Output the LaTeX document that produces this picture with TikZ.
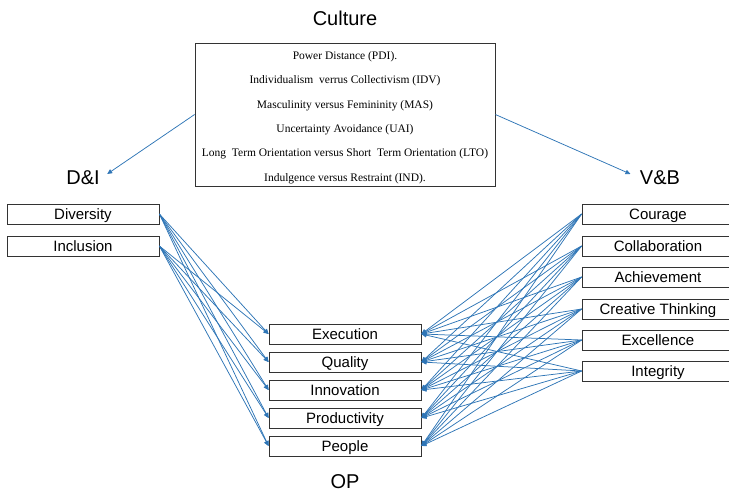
\documentclass[tikz,border=0pt]{standalone}
\usepackage{fontspec}
\setmainfont{Liberation Sans}
\newfontfamily\timesfont{Liberation Serif}
\usetikzlibrary{arrows.meta}
\definecolor{linkblu}{RGB}{46,117,182}

\begin{document}
\begin{tikzpicture}[x=1pt, y=-1pt,
        casella/.style={draw=black!80, line width=0.8pt, minimum width=152pt, minimum height=20pt, inner sep=0pt,
                        text height=11pt, text depth=0.3pt, font=\fontsize{15}{17}\selectfont},
        titolo/.style={font=\fontsize{20}{24}\selectfont},
        freccia/.style={-{Triangle[width=4.5pt,length=5pt]}, linkblu, line width=0.75pt}]
        \useasboundingbox (0,0) rectangle (729,493);

        % Riquadro della cultura
        \node[titolo] (culturaT) at (345,18) {Culture};
        \node[draw=black!80, line width=0.8pt, minimum width=300pt, minimum height=143pt, inner sep=0pt] (cult) at (345,114.5) {};
        \node[align=center, inner sep=0pt, font=\timesfont\fontsize{11.5}{24.4}\selectfont] (cultTesto) at ([yshift=-3pt]cult.center) {%
            Power Distance (PDI).\\
            Individualism\ \ verrus Collectivism (IDV)\\
            Masculinity versus Femininity\ (MAS)\\
            Uncertainty Avoidance (UAI)\\
            Long\ \ Term Orientation versus Short\ \ Term Orientation (LTO)\\
            Indulgence\ versus Restraint (IND).};

        % Titoli dei gruppi
        \node[titolo] (di) at (83,178) {D\&I};
        \node[titolo] (vb) at (660,178) {V\&B};
        \node[titolo] (op) at (345,482) {OP};

        \coordinate (diPunta) at ([xshift=4pt,yshift=4pt]di.east);
        \coordinate (vbPunta) at ([xshift=-6pt,yshift=4pt]vb.west);
        \draw[freccia] (cult.west) -- (diPunta);
        \draw[freccia] (cult.east) -- (vbPunta);

        % Caselle a sinistra
        \node[casella] (div) at (83,214) {Diversity};
        \node[casella] (inc) at (83,246) {Inclusion};

        % Caselle centrali
        \node[casella] (ese) at (345,334) {Execution};
        \node[casella] (qua) at (345,362) {Quality};
        \node[casella] (inn) at (345,390) {Innovation};
        \node[casella] (pro) at (345,418) {Productivity};
        \node[casella] (peo) at (345,446) {People};

        % Caselle a destra
        \node[casella] (cor) at (658,214) {Courage};
        \node[casella] (col) at (658,246) {Collaboration};
        \node[casella] (ach) at (658,277) {Achievement};
        \node[casella] (cre) at (658,309) {Creative Thinking};
        \node[casella] (exc) at (658,340) {Excellence};
        \node[casella] (itg) at (658,371) {Integrity};

        % Collegamenti
        \foreach \s in {div, inc} {
            \foreach \t in {ese, qua, inn, pro, peo} {
                \draw[freccia] (\s.east) -- (\t.west);
            }
        }
        \foreach \s in {cor, col, ach, cre, exc, itg} {
            \foreach \t in {ese, qua, inn, pro, peo} {
                \draw[freccia] (\s.west) -- (\t.east);
            }
        }
    \end{tikzpicture}
\end{document}
